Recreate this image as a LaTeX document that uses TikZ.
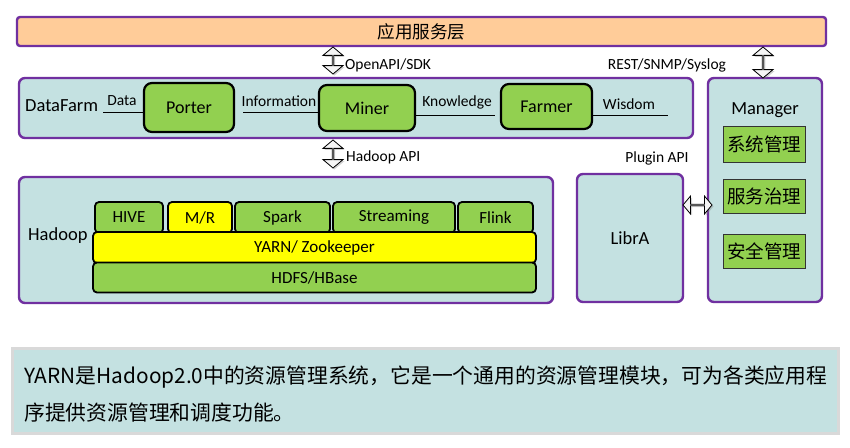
\documentclass[tikz,border=0pt]{standalone}
\usepackage{fontspec}
\setmainfont{Carlito}
\newfontfamily\cjk{Noto Sans CJK SC}
\usetikzlibrary{shapes.arrows,shadows}
\definecolor{purp}{HTML}{7030A0}
\definecolor{teal0}{HTML}{C4E1E1}
\definecolor{grn}{HTML}{92D050}
\definecolor{peach}{HTML}{FFCC99}
\definecolor{yel}{HTML}{FFFF00}
\definecolor{gborder}{HTML}{D9D9D9}
\begin{document}
\begin{tikzpicture}[x=1pt,y=-1pt,
  purplebox/.style={draw=purp,line width=2.4pt,rounded corners=6pt,fill=teal0,inner sep=0pt},
  modbox/.style={draw=black,line width=2.2pt,rounded corners=8pt,fill=grn,inner sep=0pt,font=\fontsize{18}{20}\selectfont},
  layerbox/.style={draw=black,line width=1.8pt,rounded corners=4pt,fill=grn,inner sep=0pt,font=\fontsize{17}{19}\selectfont},
  mgrbox/.style={draw=black!80,line width=0.8pt,fill=grn,inner sep=0pt,font=\cjk\fontsize{18.5}{20}\selectfont},
  biglabel/.style={font=\fontsize{18.5}{20}\selectfont,inner sep=0pt},
  smalllabel/.style={font=\fontsize{15.5}{17}\selectfont,inner sep=0pt},
  darrow/.style={double arrow,draw=black,line width=0.8pt,fill=gray!8,inner sep=0pt,
     minimum width=20pt,double arrow head extend=5pt,double arrow tip angle=100,
     drop shadow={opacity=0.35,shadow xshift=1.5pt,shadow yshift=-1.5pt}},
  flowline/.style={draw=black,line width=1pt}]
\useasboundingbox (0,0) rectangle (850,447);

% top bar
\node[purplebox,fill=peach,rounded corners=3pt,minimum width=809pt,minimum height=29pt,
  font=\cjk\fontsize{17.6}{20}\selectfont] (app) at (421.5,31.5) {应用服务层};

% DataFarm
\node[purplebox,minimum width=674pt,minimum height=60pt] (df) at (356,108) {};
\node[biglabel,anchor=west] (dftext) at (25,106) {DataFarm};
\node[modbox,minimum width=90pt,minimum height=49pt] (porter) at (189,107.5) {Porter};
\node[modbox,minimum width=96pt,minimum height=46pt] (miner) at (367,108) {Miner};
\node[modbox,minimum width=91pt,minimum height=45pt] (farmer) at (546.5,106.5) {Farmer};

\coordinate (d0) at (103,112);
\coordinate (i0) at (243,112);
\coordinate (k1) at (495,115);
\coordinate (w1) at (668,115);
\draw[flowline] (d0) -- (d0 -| porter.west);
\draw[flowline] (i0) -- (i0 -| miner.west);
\draw[flowline] (k1 -| miner.east) -- (k1);
\draw[flowline] (w1 -| farmer.east) -- (w1);
\node[smalllabel] (ldata) at (122,101) {Data};
\node[smalllabel] (linfo) at (279,101) {Information};
\node[smalllabel] (lknow) at (457,102) {Knowledge};
\node[smalllabel] (lwis) at (629,104) {Wisdom};

% Hadoop
\node[purplebox,minimum width=534pt,minimum height=126pt] (hadoop) at (286,240) {};
\node[biglabel,anchor=west] (hadooptext) at (28,236) {Hadoop};
\node[layerbox,minimum width=68pt,minimum height=31pt] (hive) at (129,217.5) {HIVE};
\node[layerbox,fill=yel,minimum width=64pt,minimum height=31pt] (mr) at (200,217.5) {M/R};
\node[layerbox,minimum width=95pt,minimum height=31pt] (spark) at (282.5,217.5) {Spark};
\node[layerbox,minimum width=122pt,minimum height=31pt] (stream) at (394,217.5) {Streaming};
\node[layerbox,minimum width=75pt,minimum height=31pt] (flink) at (495.5,217.5) {Flink};
\node[layerbox,fill=yel,minimum width=443pt,minimum height=31pt] (yarn) at (314.5,247.5) {YARN/ Zookeeper};
\node[layerbox,minimum width=443pt,minimum height=30pt] (hdfs) at (314.5,277.5) {HDFS/HBase};

% LibrA
\node[purplebox,minimum width=106pt,minimum height=128pt,font=\fontsize{18.5}{20}\selectfont] (libra) at (630,238) {LibrA};

% Manager
\node[purplebox,minimum width=114pt,minimum height=224pt] (mgr) at (765,190) {};
\node[biglabel] (mgrtext) at (765,110) {Manager};
\node[mgrbox,minimum width=82pt,minimum height=36pt] (m1) at (764,144) {系统管理};
\node[mgrbox,minimum width=82pt,minimum height=34pt] (m2) at (764,196) {服务治理};
\node[mgrbox,minimum width=82pt,minimum height=34pt] (m3) at (764,251) {安全管理};

% arrows
\node[darrow,shape border rotate=90,minimum height=27pt] (a1) at (333,60.5) {};
\node[darrow,shape border rotate=90,minimum height=31pt] (a2) at (763,62.5) {};
\node[darrow,shape border rotate=90,minimum height=28pt] (a3) at (333,154) {};
\node[darrow,minimum width=18pt,double arrow head extend=4.5pt,minimum height=29pt] (a4) at (697.5,205) {};
\node[smalllabel,anchor=west] (lopen) at (345,65) {OpenAPI/SDK};
\node[smalllabel] (lrest) at (667,65) {REST/SNMP/Syslog};
\node[smalllabel,anchor=west] (lhapi) at (346,157) {Hadoop API};
\node[smalllabel] (lplug) at (657,158) {Plugin API};

% bottom text
\node[draw=gborder,line width=3pt,fill=teal0,minimum width=826pt,minimum height=85pt] (note) at (425,390.5) {};
\node[anchor=west,align=left,inner sep=0pt,font=\cjk\fontsize{20.8}{37}\selectfont] (notetext) at (24,394.5)
  {YARN是Hadoop2.0中的资源管理系统，它是一个通用的资源管理模块，可为各类应用程\\序提供资源管理和调度功能。};
\end{tikzpicture}
\end{document}
